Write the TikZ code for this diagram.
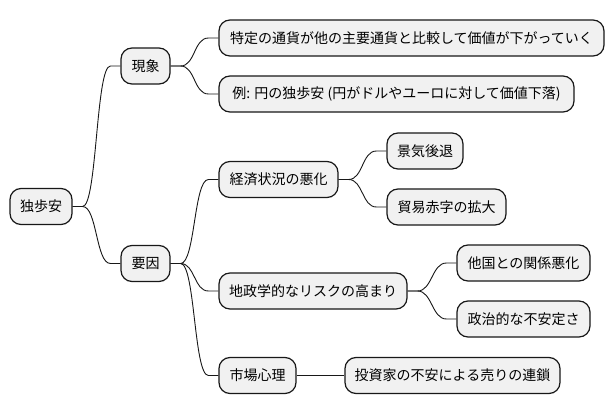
\documentclass[tikz,border=0pt]{standalone}
\usepackage{fontspec}
\setmainfont{Noto Sans CJK JP}
\definecolor{boxfill}{HTML}{F1F1F1}
\definecolor{boxline}{HTML}{181818}
\tikzset{
  mmbox/.style={draw=boxline, fill=boxfill, line width=1.2pt, rounded corners=11pt,
    minimum height=36pt, inner sep=0pt, align=center, text=black,
    font=\fontsize{14pt}{16pt}\selectfont},
  mmlink/.style={draw=boxline, line width=0.9pt}
}
\newcommand\mmlink[2]{\draw[mmlink] (#1.east) -- ([xshift=10pt]#1.east) .. controls ([xshift=24.5pt]#1.east) and ([xshift=-24.5pt]#2.west) .. ([xshift=-10pt]#2.west) -- (#2.west);}
\begin{document}
\begin{tikzpicture}[x=1pt,y=-1pt]
\useasboundingbox[fill=white] (0,0) rectangle (614,415);
\node[mmbox, minimum width=62pt] (root) at (41,206.5) {独歩安};
\node[mmbox, minimum width=49pt] (gen) at (145.5,66) {現象};
\node[mmbox, minimum width=385pt] (g1) at (411.5,38) {特定の通貨が他の主要通貨と比較して価値が下がっていく};
\node[mmbox, minimum width=355pt] (g2) at (396.5,94) {例: 円の独歩安 (円がドルやユーロに対して価値下落)};
\node[mmbox, minimum width=49pt] (yo) at (145.5,263.5) {要因};
\node[mmbox, minimum width=119pt] (k) at (278.5,179.5) {経済状況の悪化};
\node[mmbox, minimum width=76pt] (k1) at (425,151) {景気後退};
\node[mmbox, minimum width=119pt] (k2) at (446.5,207) {貿易赤字の拡大};
\node[mmbox, minimum width=188pt] (c) at (313,291) {地政学的なリスクの高まり};
\node[mmbox, minimum width=133pt] (c1) at (523.5,263) {他国との関係悪化};
\node[mmbox, minimum width=133pt] (c2) at (523.5,319) {政治的な不安定さ};
\node[mmbox, minimum width=77pt] (s) at (257.5,375.5) {市場心理};
\node[mmbox, minimum width=215pt] (s1) at (452.5,375.5) {投資家の不安による売りの連鎖};
\mmlink{root}{gen}
\mmlink{root}{yo}
\mmlink{gen}{g1}
\mmlink{gen}{g2}
\mmlink{yo}{k}
\mmlink{yo}{c}
\mmlink{yo}{s}
\mmlink{k}{k1}
\mmlink{k}{k2}
\mmlink{c}{c1}
\mmlink{c}{c2}
\mmlink{s}{s1}
\end{tikzpicture}
\end{document}
